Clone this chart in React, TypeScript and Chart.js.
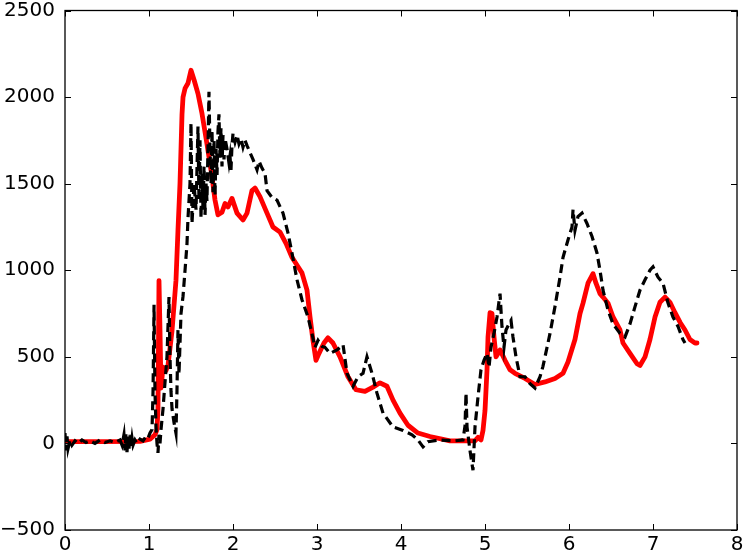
import React, { useEffect, useRef } from "react";
import { Chart, registerables } from "chart.js";

Chart.register(...registerables);

const redX = [0.000,0.417,0.893,1.012,1.071,1.095,1.107,1.119,1.131,1.143,1.167,1.202,1.226,1.274,1.321,1.345,1.369,1.393,1.405,1.429,1.464,1.500,1.536,1.583,1.631,1.690,1.750,1.786,1.821,1.869,1.905,1.940,1.988,2.048,2.119,2.167,2.226,2.262,2.321,2.405,2.476,2.560,2.631,2.702,2.774,2.821,2.881,2.917,2.952,2.988,3.024,3.083,3.131,3.190,3.274,3.369,3.464,3.571,3.667,3.750,3.833,3.905,3.988,4.083,4.202,4.345,4.583,4.881,4.917,4.952,4.976,5.000,5.024,5.036,5.060,5.083,5.107,5.131,5.179,5.238,5.298,5.357,5.476,5.595,5.714,5.833,5.929,5.988,6.071,6.131,6.167,6.226,6.286,6.321,6.369,6.405,6.464,6.524,6.607,6.643,6.726,6.810,6.845,6.905,6.964,7.024,7.083,7.143,7.202,7.262,7.321,7.381,7.440,7.500,7.524];
const redY = [10,10,12,25,50,80,200,940,650,320,440,420,450,650,940,1230,1500,1900,2000,2050,2080,2155,2100,2020,1905,1730,1540,1405,1320,1335,1385,1365,1415,1330,1290,1330,1460,1475,1425,1330,1250,1220,1155,1075,1020,985,885,730,595,480,520,580,610,580,500,385,310,300,325,350,330,250,175,105,60,40,15,15,35,20,75,190,425,615,755,750,615,500,540,480,425,405,375,340,355,375,405,470,600,750,810,925,980,925,865,845,810,730,655,580,520,460,450,500,600,730,815,845,815,755,700,655,600,580,580];

const blackX = [0.000,0.012,0.024,0.036,0.060,0.083,0.119,0.155,0.202,0.250,0.298,0.357,0.417,0.476,0.536,0.595,0.655,0.679,0.702,0.714,0.726,0.738,0.750,0.762,0.774,0.786,0.798,0.810,0.833,0.857,0.893,0.929,0.964,0.988,1.012,1.036,1.048,1.060,1.071,1.083,1.095,1.107,1.119,1.131,1.143,1.167,1.190,1.214,1.238,1.250,1.262,1.274,1.298,1.321,1.333,1.345,1.357,1.381,1.405,1.429,1.452,1.464,1.488,1.500,1.512,1.536,1.560,1.583,1.595,1.607,1.619,1.631,1.643,1.655,1.667,1.679,1.690,1.702,1.714,1.726,1.738,1.750,1.762,1.774,1.786,1.798,1.810,1.821,1.833,1.845,1.857,1.869,1.881,1.893,1.905,1.929,1.952,1.964,1.976,1.988,2.000,2.024,2.048,2.071,2.095,2.119,2.143,2.167,2.202,2.238,2.262,2.286,2.310,2.345,2.381,2.405,2.464,2.524,2.595,2.655,2.702,2.762,2.821,2.893,2.940,2.976,3.012,3.060,3.095,3.155,3.238,3.310,3.357,3.429,3.488,3.548,3.595,3.655,3.714,3.786,3.905,4.024,4.131,4.202,4.262,4.321,4.464,4.643,4.738,4.762,4.774,4.786,4.821,4.857,4.881,4.917,4.952,4.988,5.024,5.048,5.071,5.107,5.143,5.179,5.202,5.226,5.250,5.286,5.310,5.333,5.369,5.417,5.476,5.536,5.595,5.655,5.690,5.774,5.833,5.893,5.929,5.988,6.036,6.048,6.071,6.107,6.155,6.214,6.274,6.333,6.369,6.405,6.464,6.524,6.607,6.667,6.726,6.786,6.845,6.905,6.964,7.000,7.060,7.119,7.179,7.238,7.298,7.357,7.381];
const blackY = [60,-40,40,-30,20,-10,15,0,20,5,15,0,20,5,15,5,20,-10,50,-40,60,-50,40,-30,50,-20,30,-10,20,0,25,15,40,30,60,80,300,800,300,100,0,-55,50,0,80,200,350,500,845,500,300,200,120,60,300,655,400,750,850,1000,1150,1300,1500,1850,1270,1500,1350,1830,1400,1750,1300,1560,1350,1600,1320,1500,1400,1700,2030,1700,1500,1810,1450,1750,1430,1700,1550,1800,1900,1650,1820,1600,1780,1640,1760,1700,1620,1660,1580,1720,1790,1740,1780,1730,1760,1710,1750,1720,1680,1640,1610,1580,1630,1590,1560,1460,1420,1405,1330,1215,1100,945,830,730,635,555,595,560,555,520,540,570,405,330,385,405,500,405,290,175,95,75,50,20,-20,10,20,15,20,100,290,95,-40,-155,95,270,425,480,520,440,555,635,730,865,675,555,655,690,710,615,500,385,385,345,320,385,445,635,790,960,1075,1175,1250,1350,1230,1310,1330,1270,1195,1100,1000,885,770,690,635,615,690,790,885,945,1000,1020,960,925,810,730,675,600,580];

const xTicks = [0, 1, 2, 3, 4, 5, 6, 7, 8];
const yTicks = [-500, 0, 500, 1000, 1500, 2000, 2500];

const toPts = (xs: number[], ys: number[]) => xs.map((x, i) => ({ x, y: ys[i] }));

const frameTicks = {
  id: "frameTicks",
  afterDraw(chart: any) {
    const { ctx, chartArea, scales } = chart;
    const { left, right, top, bottom } = chartArea;
    const len = 6;
    ctx.save();
    ctx.strokeStyle = "#000";
    ctx.lineWidth = 1;
    ctx.beginPath();
    xTicks.forEach((v) => {
      const px = Math.round(scales.x.getPixelForValue(v)) + 0.5;
      ctx.moveTo(px, bottom);
      ctx.lineTo(px, bottom - len);
      ctx.moveTo(px, top);
      ctx.lineTo(px, top + len);
    });
    yTicks.forEach((v) => {
      const py = Math.round(scales.y.getPixelForValue(v)) + 0.5;
      ctx.moveTo(left, py);
      ctx.lineTo(left + len, py);
      ctx.moveTo(right, py);
      ctx.lineTo(right - len, py);
    });
    ctx.stroke();
    ctx.lineWidth = 1.3;
    ctx.strokeRect(left, top, right - left, bottom - top);
    ctx.restore();
  },
};

export default function App() {
  const ref = useRef<HTMLCanvasElement | null>(null);
  useEffect(() => {
    if (!ref.current) return;
    const font = { family: "'DejaVu Sans', sans-serif", size: 20 };
    const chart = new Chart(ref.current, {
      type: "line",
      data: {
        datasets: [
          {
            label: "black",
            data: toPts(blackX, blackY),
            borderColor: "#000000",
            borderWidth: 3.2,
            borderDash: [9, 5],
            borderCapStyle: "butt",
            pointRadius: 0,
            tension: 0,
            fill: false,
          },
          {
            label: "red",
            data: toPts(redX, redY),
            borderColor: "#ff0000",
            borderWidth: 4.8,
            borderJoinStyle: "round",
            borderCapStyle: "round",
            pointRadius: 0,
            tension: 0,
            fill: false,
          },
        ],
      },
      options: {
        animation: false,
        responsive: false,
        maintainAspectRatio: false,
        layout: { padding: { left: 0, right: 7, top: 10.5, bottom: 0 } },
        plugins: { legend: { display: false }, tooltip: { enabled: false } },
        scales: {
          x: {
            type: "linear",
            min: 0,
            max: 8,
            afterBuildTicks: (s: any) => {
              s.ticks = xTicks.map((v) => ({ value: v }));
            },
            afterFit: (s: any) => {
              s.height = 22;
              s.paddingLeft = 0;
              s.paddingRight = 0;
            },
            grid: { display: false, drawTicks: false },
            border: { display: false },
            ticks: {
              autoSkip: false,
              maxRotation: 0,
              padding: 3,
              color: "#000",
              font,
              callback: (v: any) => String(v).replace("-", "\u2212"),
            },
          },
          y: {
            type: "linear",
            min: -500,
            max: 2500,
            afterBuildTicks: (s: any) => {
              s.ticks = yTicks.map((v) => ({ value: v }));
            },
            afterFit: (s: any) => {
              s.width = 65;
              s.paddingTop = 0;
              s.paddingBottom = 0;
            },
            grid: { display: false, drawTicks: false },
            border: { display: false },
            ticks: {
              autoSkip: false,
              padding: 10,
              color: "#000",
              font,
              callback: (v: any) => String(v).replace("-", "\u2212"),
            },
          },
        },
      },
      plugins: [frameTicks],
    } as any);
    return () => chart.destroy();
  }, []);
  return (
    <div style={{ position: "fixed", left: 0, top: 0, width: 744, height: 552, background: "#fff" }}>
      <canvas ref={ref} width={744} height={552} style={{ width: 744, height: 552, display: "block" }} />
    </div>
  );
}
